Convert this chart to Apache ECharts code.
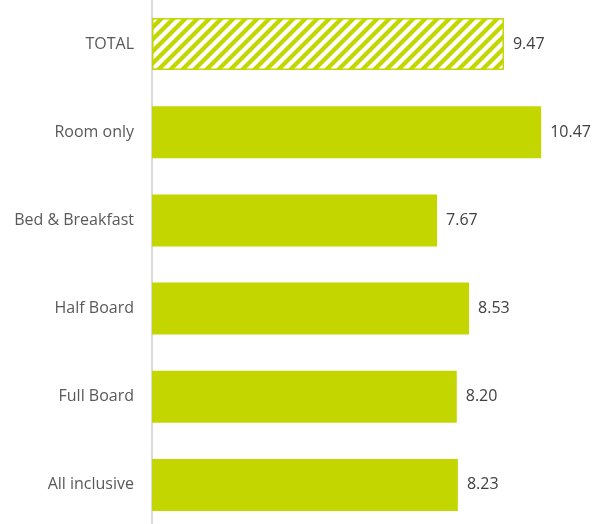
<!DOCTYPE html>
<html><head><meta charset="utf-8">
<script src="https://cdn.jsdelivr.net/npm/echarts@6/dist/echarts.min.js"></script>
<style>html,body{margin:0;padding:0;background:#fff;overflow:hidden}#c{width:602px;height:530px}</style>
</head><body><div id="c"></div>
<script>
const categories = ["TOTAL", "Room only", "Bed & Breakfast", "Half Board", "Full Board", "All inclusive"];
const values = [9.47, 10.47, 7.67, 8.53, 8.20, 8.23];

const GREEN = '#c4d600';
const tile = document.createElement('canvas');
tile.width = 12; tile.height = 12;
const g = tile.getContext('2d');
g.fillStyle = '#fff'; g.fillRect(0,0,12,12);
g.strokeStyle = GREEN; g.lineWidth = 4.2;
for (let k = -1; k <= 1; k++) {
  g.beginPath(); g.moveTo(k*12 - 2, 14); g.lineTo(k*12 + 14, -2); g.stroke();
}

const data = values.map((v, i) => i === 0
  ? { value: v, itemStyle: { color: { image: tile, repeat: 'repeat' }, borderColor: GREEN, borderWidth: 1.5 } }
  : { value: v, itemStyle: { color: GREEN } });

const chart = echarts.init(document.getElementById('c'));
chart.setOption({
  animation: false,
  grid: { left: 152, right: 4, top: 0, bottom: 1, containLabel: false },
  xAxis: { type: 'value', min: 0, max: 12, show: false },
  yAxis: {
    type: 'category', data: categories, inverse: true,
    axisLine: { lineStyle: { color: '#d9d9d9', width: 2 } },
    axisTick: { show: false },
    axisLabel: { margin: 18, color: '#595959', fontSize: 16, fontFamily: 'Open Sans' }
  },
  series: [{
    type: 'bar', data: data, barWidth: 52,
    label: { show: true, position: 'right', distance: 9, color: '#404040', fontSize: 16, fontFamily: 'Open Sans',
      formatter: p => p.value.toFixed(2) }
  }]
});
</script></body></html>
